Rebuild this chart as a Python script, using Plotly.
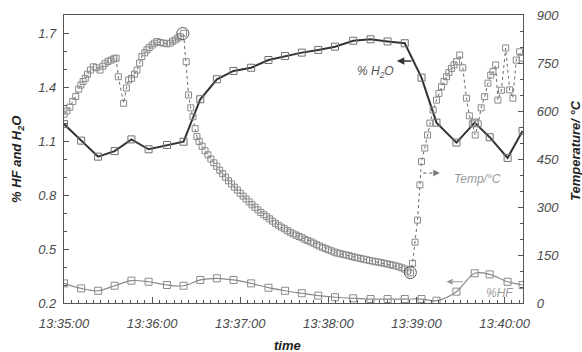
import pandas as pd
import plotly.graph_objects as go

BASE = pd.Timestamp("2000-01-01 13:35:00")

# seconds after 13:35:00 for the %H2O and %HF samples
gas_t = [0, 11.7, 23.2, 34.5, 45.9, 57.6, 70.1, 81.4, 92.8, 104.1, 115.4, 127.4, 139.2, 150.5,
         161.9, 173.1, 184.5, 196.9, 208.7, 220.3, 232.0, 243.4, 253.6, 267.2, 279.6, 289.8, 302.0, 312.2]
h2o = [1.194, 1.102, 1.013, 1.044, 1.109, 1.054, 1.078, 1.096, 1.332, 1.443, 1.489, 1.507, 1.550, 1.572,
       1.591, 1.606, 1.624, 1.657, 1.665, 1.653, 1.643, 1.452, 1.202, 1.091, 1.202, 1.121, 1.006, 1.156]
hf = [0.309, 0.281, 0.268, 0.296, 0.324, 0.318, 0.300, 0.296, 0.328, 0.337, 0.328, 0.309, 0.285, 0.268,
      0.254, 0.241, 0.232, 0.226, 0.222, 0.222, 0.222, 0.222, 0.213, 0.263, 0.365, 0.359, 0.318, 0.300]

# temperature samples (seconds after 13:35:00, degC)
temp_t = [0, 2, 4, 6, 8, 10, 11.5, 13, 14.5, 16, 18, 20, 22, 24.5, 26.5, 28, 30, 32, 34, 35.5, 37, 40.6,
          42.5, 44, 46, 48, 49.7, 51.5, 53, 55, 56.5, 58, 60, 61.5, 63.3, 65.5, 67.8, 70, 72.4, 74, 75.8,
          77.5, 79.2, 81.4, 83.2, 84.8, 86.3, 87.8, 89.3, 90.5,
          92, 94, 96, 98, 100, 102, 104, 106, 108, 110, 112, 114, 116, 118, 120, 122, 124, 126, 128, 130,
          132, 134, 136, 138, 140, 142, 144, 146, 148, 150, 152, 154, 156, 158, 160, 162, 164, 166, 168, 170,
          172, 174, 176, 178, 180, 182, 184, 186, 188, 190, 192, 194, 196, 198, 200, 202, 204, 206, 208, 210,
          212, 214, 216, 218, 220, 222, 224, 226, 228, 230, 232, 234, 236,
          237.3, 239, 240.7, 242.3, 243.4, 245.6, 247.5, 249.1, 251.3, 253.6, 255.3, 257, 258.7, 260.4, 262,
          263.8, 265.5, 267.2, 269.4, 271.5, 274, 276, 278, 280, 282, 284, 286.4, 288.6, 290.5, 292, 293.9,
          295.4, 297.8, 300.7, 303.4, 305.6, 307.9, 310.2, 312]
temp = [590, 600, 612, 630, 645, 668, 681, 692, 702, 715, 728, 738, 735, 728, 740, 749, 755, 759, 763, 765, 707, 624,
        672, 697, 702, 715, 728, 750, 770, 782, 791, 798, 806, 812, 817, 814, 812, 810, 812, 818, 822,
        828, 832, 843, 754, 650, 610, 582, 545, 520,
        505, 490, 476, 463, 450, 438, 427, 415, 404, 393, 382, 372, 362, 353, 343, 334, 325, 316, 307, 299,
        291, 283, 276, 270, 263, 256, 249, 243, 237, 232, 226, 221, 216, 212, 208, 204, 199, 195, 191, 187,
        182, 178, 174, 170, 166, 163, 159, 156, 154, 152, 150, 148, 145, 143, 141, 139, 137, 135, 133, 131,
        129, 128, 126, 124, 122, 120, 118, 116, 113, 110, 106, 100, 94,
        124, 190, 259, 369, 442, 484, 525, 562, 603, 634, 655, 676, 692, 707, 720,
        733, 744, 754, 775, 735, 640, 585, 560, 525, 560, 610, 645, 687, 712, 723, 744,
        634, 665, 797, 666, 640, 759, 785, 765]

def ts(sec_list):
    return [BASE + pd.Timedelta(seconds=s) for s in sec_list]

def t1(s):
    return (BASE + pd.Timedelta(seconds=s)).strftime("%Y-%m-%d %H:%M:%S.%f")

fig = go.Figure()

fig.add_trace(go.Scatter(
    x=ts(temp_t), y=temp, yaxis="y2", mode="lines+markers",
    line=dict(color="#6a6a6a", width=1, dash="dot"),
    marker=dict(symbol="square-open", size=6, color="#8a8a8a", line=dict(width=1)),
    showlegend=False))

fig.add_trace(go.Scatter(
    x=ts(gas_t), y=hf, mode="lines+markers",
    line=dict(color="#8a8a8a", width=1.2, shape="spline"),
    marker=dict(symbol="square-open", size=7, color="#8a8a8a", line=dict(width=1)),
    showlegend=False))

fig.add_trace(go.Scatter(
    x=ts(gas_t), y=h2o, mode="lines+markers",
    line=dict(color="#333333", width=2),
    marker=dict(symbol="square-open", size=7, color="#707070", line=dict(width=1)),
    showlegend=False))

tick_font = dict(family="Liberation Sans, Arial, sans-serif", size=13, color="#4a4a4a", style="italic")
title_font = dict(family="Liberation Sans, Arial, sans-serif", size=13, color="#222222", style="italic", weight="bold")

fig.update_layout(
    width=582, height=352,
    margin=dict(l=64, r=59, t=15, b=49, autoexpand=False),
    paper_bgcolor="white", plot_bgcolor="white",
    xaxis=dict(
        type="date", range=[t1(0), t1(312.5)], automargin=False,
        tick0=t1(0), dtick=60000, tickformat="%H:%M:%S",
        showgrid=False, zeroline=False,
        showline=True, linecolor="#555555", linewidth=1.3, mirror=True,
        ticks="inside", ticklen=6, tickcolor="#555555",
        minor=dict(dtick=5000, ticks="inside", ticklen=3, tickcolor="#555555"),
        tickfont=tick_font, ticklabelstandoff=8),
    yaxis=dict(
        range=[0.2, 1.8], tick0=0.2, dtick=0.3, tickformat=".1f", automargin=False,
        showgrid=False, zeroline=False,
        showline=True, linecolor="#555555", linewidth=1.3,
        ticks="inside", ticklen=5, tickcolor="#555555",
        minor=dict(dtick=0.1, ticks="inside", ticklen=3, tickcolor="#555555"),
        tickfont=tick_font, ticklabelstandoff=4),
    yaxis2=dict(
        overlaying="y", side="right", range=[0, 900], tick0=0, dtick=150, automargin=False,
        showgrid=False, zeroline=False,
        showline=True, linecolor="#555555", linewidth=1.3,
        ticks="inside", ticklen=5, tickcolor="#555555",
        minor=dict(dtick=50, ticks="inside", ticklen=3, tickcolor="#555555"),
        tickfont=tick_font, ticklabelstandoff=10),
)

ann = []
# axis titles
ann.append(dict(text="time", xref="paper", yref="paper", x=0.486, y=-0.149, showarrow=False,
                font=title_font, xanchor="center", yanchor="middle"))
ann.append(dict(text="% HF and H<sub>2</sub>O", xref="paper", yref="paper", x=-0.1, y=0.497, showarrow=False,
                font=title_font, textangle=-90, xanchor="center", yanchor="middle"))
ann.append(dict(text="Temperature/ °C", xref="paper", yref="paper", x=1.113, y=0.531, showarrow=False,
                font=title_font, textangle=-90, xanchor="center", yanchor="middle"))
# in-plot labels
lab_font = dict(family="Liberation Sans, Arial, sans-serif", size=12, style="italic")
ann.append(dict(text="% H<sub>2</sub>O", x=t1(212.3), y=1.483, showarrow=False,
                font=dict(lab_font, color="#555555")))
ann.append(dict(text="Temp/°C", x=t1(281.6), y=0.889, showarrow=False,
                font=dict(lab_font, color="#9a9a9a")))
ann.append(dict(text="%HF", x=t1(296.6), y=0.256, showarrow=False,
                font=dict(lab_font, color="#9a9a9a")))
# arrows
ann.append(dict(text="", x=t1(226.6), y=1.544, ax=16, ay=0, showarrow=True,
                arrowhead=2, arrowsize=1, arrowwidth=1.5, arrowcolor="#333333"))
ann.append(dict(text="", x=t1(255.8), y=0.922, ax=-5, ay=0, showarrow=True,
                arrowhead=2, arrowsize=1, arrowwidth=1.3, arrowcolor="#777777"))
ann.append(dict(text="", x=t1(260.4), y=0.318, ax=18, ay=0, showarrow=True,
                arrowhead=2, arrowsize=1, arrowwidth=1.2, arrowcolor="#999999"))
fig.update_layout(annotations=ann)

shapes = [
    dict(type="line", xref="x", yref="y", x0=t1(244.6), x1=t1(253.5), y0=0.922, y1=0.922,
         line=dict(color="#777777", width=1.3, dash="dot")),
    dict(type="circle", xref="x", yref="y", xsizemode="pixel", ysizemode="pixel",
         xanchor=t1(80.9), yanchor=1.697, x0=-6, x1=6, y0=-6, y1=6,
         line=dict(color="#555555", width=1)),
    dict(type="circle", xref="x", yref="y", xsizemode="pixel", ysizemode="pixel",
         xanchor=t1(235.8), yanchor=0.369, x0=-6, x1=6, y0=-6, y1=6,
         line=dict(color="#555555", width=1)),
]
fig.update_layout(shapes=shapes)

fig.write_html("out.html", config={"displayModeBar": False},
               post_script="document.body.style.margin='0px';document.body.style.overflow='hidden';")
